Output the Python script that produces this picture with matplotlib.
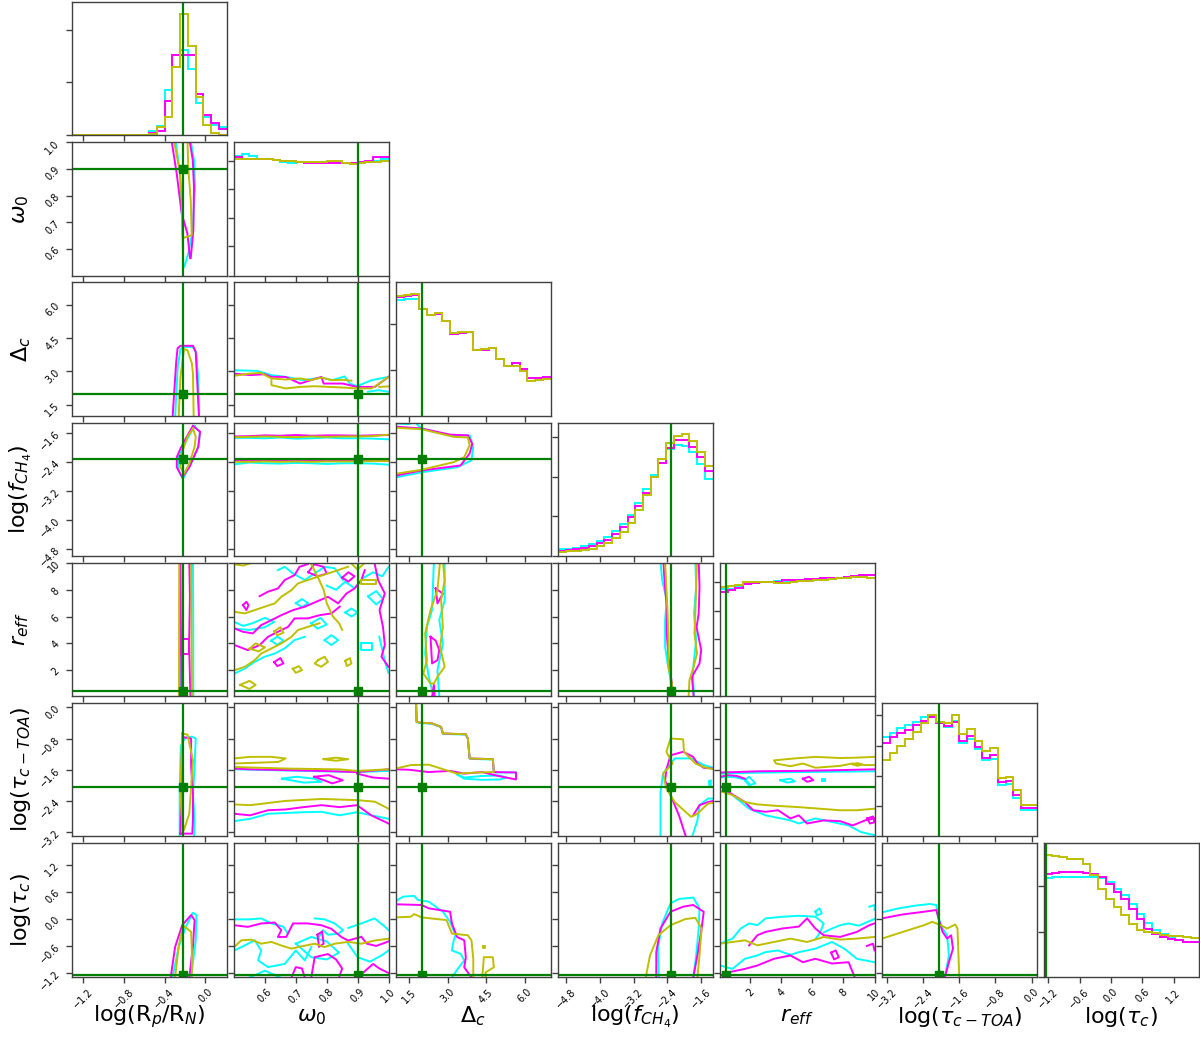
#!/usr/bin/env python3
"""Corner plot of three retrievals (cyan, magenta, olive) with the true values in green."""
import matplotlib
matplotlib.use('Agg')
import matplotlib.pyplot as plt
import numpy as np

LABELS = [r'log(R$_p$/R$_N$)', r'$\omega_0$', r'$\Delta_c$', r'log($f_{CH_4}$)',
          r'$r_{eff}$', r'log($\tau_{c-TOA}$)', r'log($\tau_c$)']
RANGES = [(-1.31, 0.21), (0.5, 1.0), (1.0, 7.0), (-5.0, -1.32),
          (0.06, 10.0), (-3.31, 0.11), (-1.28, 1.68)]
TRUTHS = [-0.22, 0.9, 2.0, -2.31, 0.45, -2.04, -1.25]
TICKS = [[-1.2, -0.8, -0.4, 0.0], [0.6, 0.7, 0.8, 0.9, 1.0], [1.5, 3.0, 4.5, 6.0],
         [-4.8, -4.0, -3.2, -2.4, -1.6], [2, 4, 6, 8, 10],
         [-3.2, -2.4, -1.6, -0.8, 0.0], [-1.2, -0.6, 0.0, 0.6, 1.2]]
HIST_YTICKS = [[0.0, 0.40, 0.79], [0.0, 0.219, 0.435, 0.647, 0.861], [0.0, 0.343, 0.687],
               [0.0, 0.297, 0.595, 0.893], [0.0, 0.213, 0.426, 0.64, 0.853],
               [0.0, 0.225, 0.45, 0.68, 0.91], [0.0, 0.338, 0.677]]

COLORS = {'c': '#00ffff', 'm': '#ff00ff', 'y': '#bfbf00'}
TRUTH_COLOR = '#008000'

# 1D marginals, 20 bins over RANGES, heights as fraction of the panel (cyan, magenta, olive)
HIST_0 = ([0, 0, 0, 0, 0, 0, 0, 0, 0, 0.005, 0.03, 0.07, 0.34, 0.60, 0.64, 0.50, 0.24, 0.14, 0.08, 0.06],
          [0, 0, 0, 0, 0, 0, 0, 0, 0, 0.005, 0.015, 0.03, 0.26, 0.60, 0.60, 0.60, 0.31, 0.15, 0.09, 0.05],
          [0, 0, 0, 0, 0, 0, 0, 0, 0, 0.005, 0.01, 0.06, 0.135, 0.51, 0.91, 0.67, 0.29, 0.08, 0.015, 0.0])
HIST_1 = ([0.896, 0.910, 0.896, 0.878, 0.873, 0.866, 0.853, 0.846, 0.853, 0.846,
           0.841, 0.846, 0.841, 0.841, 0.846, 0.836, 0.841, 0.853, 0.861, 0.871],
          [0.886, 0.878, 0.878, 0.873, 0.871, 0.866, 0.861, 0.858, 0.853, 0.848,
           0.846, 0.846, 0.846, 0.846, 0.846, 0.846, 0.853, 0.861, 0.886, 0.886],
          [0.871, 0.873, 0.873, 0.871, 0.871, 0.866, 0.861, 0.858, 0.853, 0.853,
           0.853, 0.853, 0.856, 0.858, 0.841, 0.836, 0.846, 0.853, 0.853, 0.861])
HIST_2 = ([0.871, 0.873, 0.878, 0.799, 0.759, 0.766, 0.711, 0.622, 0.624, 0.629,
           0.497, 0.497, 0.505, 0.423, 0.376, 0.398, 0.353, 0.281, 0.284, 0.286],
          [0.891, 0.896, 0.903, 0.799, 0.759, 0.766, 0.711, 0.617, 0.620, 0.627,
           0.495, 0.493, 0.505, 0.423, 0.376, 0.393, 0.353, 0.284, 0.287, 0.294],
          [0.898, 0.903, 0.910, 0.799, 0.759, 0.771, 0.711, 0.624, 0.627, 0.629,
           0.497, 0.499, 0.505, 0.423, 0.376, 0.373, 0.336, 0.264, 0.269, 0.274])
HIST_3 = ([0.050, 0.055, 0.063, 0.073, 0.088, 0.111, 0.143, 0.186, 0.238, 0.311,
           0.394, 0.499, 0.609, 0.730, 0.800, 0.832, 0.827, 0.777, 0.689, 0.581],
          [0.040, 0.045, 0.050, 0.063, 0.076, 0.098, 0.123, 0.168, 0.218, 0.293,
           0.376, 0.469, 0.589, 0.694, 0.807, 0.870, 0.870, 0.820, 0.744, 0.637],
          [0.030, 0.035, 0.038, 0.045, 0.055, 0.073, 0.098, 0.136, 0.181, 0.251,
           0.348, 0.461, 0.589, 0.730, 0.845, 0.903, 0.913, 0.865, 0.782, 0.677])
HIST_4 = ([0.802, 0.807, 0.824, 0.845, 0.852, 0.857, 0.857, 0.862, 0.857, 0.862,
           0.870, 0.875, 0.875, 0.878, 0.880, 0.885, 0.890, 0.895, 0.908, 0.908],
          [0.782, 0.800, 0.812, 0.840, 0.850, 0.855, 0.857, 0.857, 0.870, 0.875,
           0.875, 0.878, 0.880, 0.883, 0.885, 0.890, 0.895, 0.903, 0.910, 0.910],
          [0.820, 0.827, 0.837, 0.857, 0.860, 0.857, 0.855, 0.852, 0.850, 0.855,
           0.862, 0.867, 0.870, 0.872, 0.878, 0.883, 0.888, 0.893, 0.895, 0.890])
HIST_5 = ([0.747, 0.772, 0.810, 0.835, 0.860, 0.892, 0.902, 0.852, 0.817, 0.865,
           0.704, 0.734, 0.652, 0.576, 0.584, 0.389, 0.391, 0.288, 0.195, 0.195],
          [0.704, 0.747, 0.772, 0.797, 0.835, 0.865, 0.897, 0.852, 0.827, 0.860,
           0.717, 0.754, 0.672, 0.589, 0.607, 0.409, 0.414, 0.308, 0.215, 0.215],
          [0.571, 0.626, 0.677, 0.727, 0.780, 0.847, 0.910, 0.860, 0.847, 0.910,
           0.765, 0.802, 0.717, 0.641, 0.664, 0.441, 0.446, 0.346, 0.238, 0.238])
HIST_6 = ([0.739, 0.747, 0.747, 0.747, 0.747, 0.747, 0.747, 0.739, 0.709, 0.659,
           0.609, 0.546, 0.471, 0.401, 0.353, 0.321, 0.296, 0.276, 0.263, 0.258],
          [0.767, 0.779, 0.784, 0.784, 0.784, 0.779, 0.772, 0.747, 0.697, 0.634,
           0.584, 0.509, 0.434, 0.359, 0.321, 0.296, 0.283, 0.271, 0.263, 0.258],
          [0.910, 0.902, 0.897, 0.885, 0.880, 0.847, 0.759, 0.659, 0.584, 0.521,
           0.459, 0.396, 0.346, 0.338, 0.326, 0.313, 0.308, 0.303, 0.296, 0.288])

# 2D credible contours: (run, x values, y values)
C_1_0 = [
    ('c', [-0.296, -0.247, -0.228, -0.215, -0.205, -0.166, -0.122, -0.100, -0.110, -0.149],
          [1.02, 0.883, 0.721, 0.533, 0.533, 0.583, 0.671, 0.833, 0.933, 1.02]),
    ('m', [-0.336, -0.280, -0.231, -0.175, -0.149, -0.142, -0.116, -0.110, -0.122, -0.159],
          [1.02, 0.883, 0.733, 0.658, 0.565, 0.565, 0.671, 0.833, 0.933, 1.02]),
    ('y', [-0.313, -0.247, -0.231, -0.221, -0.132, -0.142, -0.166, -0.175],
          [1.02, 0.883, 0.783, 0.640, 0.652, 0.783, 0.902, 1.02]),
]
C_2_0 = [
    ('c', [-0.296, -0.270, -0.243, -0.209, -0.120, -0.086, -0.068, -0.060],
          [0.9, 3.20, 4.0, 4.10, 4.10, 3.81, 2.60, 0.9]),
    ('m', [-0.321, -0.286, -0.272, -0.243, -0.120, -0.093, -0.079, -0.060],
          [0.9, 3.36, 4.03, 4.15, 4.15, 3.88, 2.60, 0.9]),
    ('y', [-0.261, -0.243, -0.226, -0.209, -0.174, -0.131, -0.120, -0.113],
          [0.9, 2.75, 3.36, 4.0, 3.95, 3.36, 2.90, 0.9]),
]
C_3_0 = [
    ('c', [-0.104, -0.050, -0.068, -0.138, -0.219, -0.261, -0.261, -0.226, -0.174, -0.104],
          [-1.41, -1.59, -1.99, -2.45, -2.87, -2.64, -2.27, -2.04, -1.76, -1.41]),
    ('m', [-0.120, -0.050, -0.068, -0.156, -0.226, -0.279, -0.279, -0.243, -0.191, -0.120],
          [-1.41, -1.57, -1.99, -2.55, -2.83, -2.55, -2.27, -2.04, -1.76, -1.41]),
    ('y', [-0.120, -0.093, -0.104, -0.156, -0.209, -0.243, -0.233, -0.209, -0.174, -0.120],
          [-1.48, -1.71, -1.99, -2.45, -2.73, -2.55, -2.17, -1.99, -1.71, -1.48]),
]
C_4_0 = [
    ('c', [-0.251, -0.251], [10.1, 0.0]),
    ('c', [-0.120, -0.117, -0.117], [10.1, 5.0, 0.0]),
    ('m', [-0.243, -0.240, -0.236, -0.233], [10.1, 6.0, 3.0, 0.0]),
    ('m', [-0.156, -0.150, -0.158, -0.145], [10.1, 7.5, 4.0, 0.0]),
    ('m', [-0.233, -0.160, -0.160, -0.233, -0.233], [4.3, 4.3, 3.2, 3.2, 4.3]),
    ('y', [-0.255, -0.258], [10.1, 0.0]),
    ('y', [-0.138, -0.135, -0.131], [10.1, 5.0, 0.0]),
]
C_5_0 = [
    ('c', [-0.251, -0.251, -0.240, -0.200, -0.130, -0.093, -0.104, -0.120, -0.104, -0.110],
          [-3.4, -2.21, -1.0, -0.78, -0.75, -0.80, -1.53, -2.21, -2.90, -3.4]),
    ('m', [-0.243, -0.236, -0.226, -0.138, -0.138, -0.120, -0.120, -0.127, -0.243],
          [-3.24, -2.21, -0.76, -0.80, -1.53, -2.21, -2.90, -3.24, -3.24]),
    ('y', [-0.226, -0.174, -0.120, -0.138, -0.156, -0.209, -0.233, -0.243, -0.226],
          [-0.67, -0.70, -1.36, -2.04, -2.73, -3.15, -2.73, -2.04, -0.67]),
]
C_6_0 = [
    ('c', [-0.321, -0.261, -0.191, -0.120, -0.086, -0.093, -0.138],
          [-1.3, -0.625, -0.177, 0.137, 0.086, -0.475, -1.3]),
    ('m', [-0.339, -0.296, -0.226, -0.138, -0.104, -0.120, -0.156],
          [-1.3, -0.625, -0.139, 0.086, -0.027, -0.60, -1.3]),
    ('y', [-0.296, -0.261, -0.243, -0.209, -0.138, -0.131, -0.131],
          [-1.3, -0.625, -0.40, -0.154, -0.289, -0.70, -1.3]),
]
C_2_1 = [
    ('c', [0.5, 0.575, 0.621, 0.667, 0.725, 0.783, 0.818, 0.858, 0.875, 0.898, 0.945, 1.0],
          [3.05, 3.02, 2.83, 2.75, 2.60, 2.72, 2.60, 2.77, 2.45, 2.33, 2.60, 2.75]),
    ('c', [0.933, 0.968, 1.0], [2.08, 2.15, 2.08]),
    ('m', [0.5, 0.552, 0.6, 0.621, 0.667, 0.714, 0.748, 0.783, 0.79, 0.852, 0.898, 0.956, 1.0],
          [2.90, 2.83, 2.87, 2.75, 2.75, 2.45, 2.60, 2.75, 2.45, 2.45, 2.30, 2.30, 2.75]),
    ('y', [0.5, 0.552, 0.586, 0.621, 0.667, 0.714, 0.748, 0.783, 0.818, 0.85, 0.88],
          [2.80, 2.90, 2.93, 2.68, 2.63, 2.68, 2.60, 2.72, 2.60, 2.62, 2.58]),
    ('y', [0.621, 0.621, 0.667, 0.714, 0.760, 0.806, 0.852, 0.898, 0.945, 0.970, 1.0],
          [2.68, 2.38, 2.23, 2.30, 2.33, 2.30, 2.27, 2.23, 2.23, 2.45, 2.75]),
    ('y', [0.97, 1.0], [2.30, 2.32]),
]
X_3_1 = [0.5, 0.55, 0.6, 0.65, 0.7, 0.75, 0.8, 0.85, 0.9, 0.95, 1.0]
C_3_1 = [
    ('c', X_3_1, [-1.74, -1.74, -1.75, -1.73, -1.76, -1.75, -1.73, -1.75, -1.75, -1.76, -1.78]),
    ('c', X_3_1, [-2.47, -2.42, -2.44, -2.45, -2.43, -2.44, -2.46, -2.44, -2.44, -2.45, -2.48]),
    ('m', X_3_1, [-1.70, -1.69, -1.67, -1.68, -1.66, -1.68, -1.67, -1.67, -1.68, -1.67, -1.66]),
    ('m', X_3_1, [-2.37, -2.38, -2.36, -2.38, -2.37, -2.37, -2.38, -2.37, -2.37, -2.38, -2.38]),
    ('y', X_3_1, [-1.72, -1.71, -1.70, -1.71, -1.72, -1.70, -1.71, -1.70, -1.70, -1.69, -1.65]),
    ('y', X_3_1, [-2.40, -2.40, -2.39, -2.40, -2.39, -2.40, -2.39, -2.39, -2.39, -2.38, -2.38]),
]
C_4_1 = [
    ('c', [0.642, 0.664, 0.691, 0.729, 0.761, 0.793, 0.826, 0.853],
          [9.46, 9.71, 9.21, 8.72, 9.21, 9.71, 9.60, 8.72]),
    ('c', [0.502, 0.535, 0.567, 0.599, 0.632, 0.664, 0.696, 0.729],
          [1.75, 2.12, 2.62, 3.0, 3.24, 3.62, 4.24, 4.49]),
    ('c', [0.793, 0.815, 0.837, 0.815, 0.793], [4.24, 4.61, 4.24, 3.87, 4.24]),
    ('c', [0.912, 0.945, 0.945, 0.912, 0.912], [4.0, 4.0, 3.5, 3.5, 4.0]),
    ('c', [0.934, 0.960, 0.982, 0.960, 0.934], [7.5, 7.9, 7.3, 6.9, 7.5]),
    ('c', [0.75, 0.78, 0.80, 0.77, 0.75], [5.5, 5.9, 5.4, 5.1, 5.5]),
    ('c', [0.97, 0.99, 1.0], [4.5, 2.5, 1.8]),
    ('c', [0.5, 0.53, 0.56, 0.60, 0.63, 0.60, 0.55, 0.5], [5.6, 5.3, 5.5, 5.9, 5.6, 5.2, 5.0, 5.1]),
    ('c', [0.86, 0.88, 0.90, 0.88, 0.86], [6.3, 6.6, 6.3, 6.0, 6.3]),
    ('c', [0.80, 0.83, 0.86, 0.89, 0.92, 0.95, 0.98, 1.0], [8.3, 8.0, 8.6, 8.1, 8.9, 9.3, 9.0, 9.7]),
    ('c', [0.70, 0.72, 0.74, 0.72, 0.70], [7.0, 7.3, 7.0, 6.7, 7.0]),
    ('c', [0.62, 0.64, 0.66, 0.64, 0.62], [4.2, 4.5, 4.2, 3.9, 4.2]),
    ('m', [0.583, 0.610, 0.642, 0.664, 0.696, 0.712, 0.739],
          [7.52, 7.85, 8.09, 8.72, 9.09, 9.71, 9.91]),
    ('m', [0.502, 0.529, 0.561, 0.588, 0.621, 0.653, 0.691, 0.729, 0.766, 0.804, 0.837,
           0.864, 0.890, 0.912, 0.923],
          [5.11, 4.86, 4.74, 5.36, 5.73, 6.10, 6.48, 6.73, 7.10, 7.47, 6.98, 7.72, 8.09, 8.72, 9.46]),
    ('m', [0.502, 0.545, 0.583, 0.610, 0.642, 0.675, 0.696, 0.739, 0.777, 0.815, 0.842],
          [3.87, 3.49, 3.87, 4.49, 4.86, 5.23, 5.86, 5.86, 6.10, 6.23, 6.73]),
    ('m', [0.955, 0.966, 0.988, 0.971, 0.982, 0.988, 0.977, 1.0],
          [9.96, 8.72, 7.72, 6.48, 5.23, 3.87, 3.0, 2.25]),
    ('m', [0.529, 0.540, 0.547, 0.540, 0.529], [6.85, 7.10, 6.85, 6.48, 6.85]),
    ('m', [0.74, 0.76, 0.79, 0.80, 0.77, 0.74], [9.3, 9.9, 9.7, 9.2, 9.0, 9.3]),
    ('m', [0.85, 0.87, 0.89, 0.87, 0.85], [8.9, 9.3, 9.0, 8.6, 8.9]),
    ('m', [0.63, 0.65, 0.66, 0.64, 0.63], [2.6, 2.9, 2.5, 2.3, 2.6]),
    ('y', [0.502, 0.535, 0.567, 0.599, 0.632, 0.653, 0.686, 0.707, 0.739, 0.772, 0.804,
           0.837, 0.869],
          [6.35, 6.23, 6.48, 6.73, 6.98, 7.47, 7.97, 8.47, 8.72, 8.97, 9.21, 9.46, 9.71]),
    ('y', [0.502, 0.535, 0.567, 0.588, 0.621, 0.653, 0.686, 0.707, 0.739, 0.777],
          [2.0, 2.25, 2.75, 3.24, 3.62, 3.99, 4.49, 4.99, 5.23, 5.5]),
    ('y', [0.75, 0.77, 0.79, 0.80, 0.82, 0.84, 0.85], [9.9, 9.0, 8.0, 7.0, 6.0, 5.5, 5.0]),
    ('y', [0.772, 0.793, 0.804, 0.782, 0.761, 0.772], [2.75, 3.0, 2.62, 2.25, 2.5, 2.75]),
    ('y', [0.86, 0.875, 0.88, 0.865, 0.86], [2.7, 2.9, 2.5, 2.3, 2.7]),
    ('y', [0.912, 0.96, 0.96, 0.912, 0.912], [8.72, 8.72, 8.4, 8.4, 8.72]),
    ('y', [0.69, 0.71, 0.72, 0.70, 0.69], [2.1, 2.3, 2.0, 1.8, 2.1]),
    ('y', [0.55, 0.57, 0.60, 0.58, 0.55], [3.6, 4.0, 3.7, 3.4, 3.6]),
    ('y', [0.63, 0.65, 0.66, 0.64, 0.63], [4.9, 5.2, 4.8, 4.6, 4.9]),
    ('y', [0.5, 0.53, 0.55], [9.9, 9.8, 9.95]),
    ('y', [0.52, 0.55, 0.57, 0.55, 0.52], [0.9, 1.2, 0.9, 0.6, 0.9]),
    ('y', [0.88, 0.90, 0.92], [9.95, 9.5, 9.95]),
]
C_5_1 = [
    ('c', [0.5, 0.667, 0.783, 0.898, 1.0], [-1.59, -1.62, -1.64, -1.66, -1.63]),
    ('c', [0.655, 0.702, 0.760, 0.783, 0.725, 0.655], [-1.83, -1.78, -1.83, -1.91, -1.93, -1.83]),
    ('c', [0.5, 0.552, 0.610, 0.725, 0.783, 0.841, 0.898, 1.0],
          [-2.92, -2.86, -2.73, -2.69, -2.68, -2.77, -2.69, -2.86]),
    ('m', [0.5, 0.552, 0.667, 0.783, 0.898, 1.0], [-1.57, -1.59, -1.61, -1.63, -1.66, -1.59]),
    ('m', [0.760, 0.806, 0.852, 0.818, 0.760], [-1.78, -1.74, -1.87, -1.95, -1.78]),
    ('m', [0.898, 0.95, 1.0], [-1.70, -1.80, -1.83]),
    ('m', [0.5, 0.552, 0.610, 0.667, 0.725, 0.783, 0.841, 0.898, 0.944, 1.0],
          [-2.73, -2.77, -2.64, -2.62, -2.56, -2.51, -2.56, -2.51, -2.77, -2.98]),
    ('y', [0.5, 0.552, 0.621, 0.667, 0.644, 0.575, 0.5], [-1.31, -1.27, -1.27, -1.31, -1.40, -1.42, -1.44]),
    ('y', [0.79, 0.83, 0.87, 0.83, 0.79], [-1.33, -1.29, -1.33, -1.37, -1.33]),
    ('y', [0.5, 0.667, 0.841, 0.898, 1.0], [-1.53, -1.57, -1.59, -1.63, -1.59]),
    ('y', [0.5, 0.552, 0.667, 0.783, 0.898, 0.956, 1.0], [-2.49, -2.51, -2.40, -2.35, -2.38, -2.42, -2.60]),
]
C_6_1 = [
    ('c', [0.5, 0.55, 0.588, 0.621, 0.659, 0.675], [-0.01, -0.01, 0.012, -0.10, -0.17, -0.33]),
    ('c', [0.761, 0.793, 0.826, 0.853, 0.837, 0.804, 0.788, 0.775],
          [0.012, -0.01, -0.10, -0.25, -0.33, -0.35, -0.25, -0.40]),
    ('c', [0.870, 0.912, 0.955, 0.988, 1.0], [-0.20, -0.10, 0.012, -0.17, -0.25]),
    ('c', [0.5, 0.524, 0.567, 0.588, 0.578, 0.610, 0.664, 0.700, 0.729, 0.75],
          [-0.70, -0.625, -0.475, -0.70, -0.92, -1.07, -1.0, -0.7, -0.92, -0.625]),
    ('c', [0.70, 0.75, 0.80, 0.84, 0.80, 0.75, 0.70], [-0.55, -0.40, -0.50, -0.75, -0.90, -0.85, -0.55]),
    ('c', [0.869, 0.900, 0.94, 0.98, 1.0], [-0.55, -0.85, -0.95, -0.80, -0.70]),
    ('c', [0.55, 0.60, 0.65], [-1.3, -1.15, -1.3]),
    ('m', [0.5, 0.545, 0.588, 0.632, 0.653, 0.642, 0.669, 0.691, 0.739, 0.783, 0.815, 0.847,
           0.869, 0.890, 0.912],
          [-0.14, -0.176, -0.10, -0.08, -0.25, -0.40, -0.40, -0.10, -0.10, -0.14, -0.22, -0.40,
           -0.48, -0.44, -0.40]),
    ('m', [0.686, 0.70, 0.72, 0.729], [-1.3, -1.07, -1.1, -1.3]),
    ('m', [0.750, 0.761, 0.804, 0.83, 0.85, 0.84], [-1.3, -0.85, -0.78, -0.90, -1.1, -1.3]),
    ('m', [0.912, 0.93, 0.96, 1.0], [-0.40, -0.55, -0.60, -0.50]),
    ('m', [0.77, 0.785, 0.79, 0.775, 0.77], [-0.35, -0.28, -0.55, -0.62, -0.35]),
    ('m', [0.90, 0.95, 0.97, 1.0], [-1.3, -1.0, -1.1, -1.2]),
    ('y', [0.5, 0.524, 0.556, 0.588, 0.621, 0.653, 0.686, 0.718, 0.761, 0.793, 0.826, 0.869,
           0.912, 0.955, 1.0],
          [-0.625, -0.475, -0.46, -0.55, -0.51, -0.59, -0.66, -0.61, -0.55, -0.625, -0.55,
           -0.51, -0.55, -0.48, -0.44]),
]
C_3_2 = [
    ('c', [1.0, 1.5, 1.6, 1.75, 1.99, 3.10, 3.86, 4.0, 3.93, 3.37, 1.99, 1.0],
          [-1.34, -1.36, -1.32, -1.32, -1.48, -1.67, -1.67, -1.99, -2.36, -2.55, -2.69, -2.83]),
    ('m', [1.0, 1.99, 3.10, 3.79, 3.96, 3.86, 3.51, 1.99, 1.0],
          [-1.43, -1.48, -1.65, -1.67, -1.90, -2.17, -2.50, -2.64, -2.78]),
    ('y', [1.0, 1.99, 3.24, 3.79, 3.86, 3.65, 3.24, 1.99, 1.0],
          [-1.46, -1.50, -1.71, -1.73, -1.94, -2.27, -2.41, -2.62, -2.73]),
]
C_4_2 = [
    ('c', [2.89, 2.89, 2.68, 2.82, 2.61, 2.68], [10.1, 7.22, 5.73, 3.99, 2.0, 0.0]),
    ('c', [2.47, 2.40, 2.20, 2.13, 2.27, 2.47], [10.1, 6.48, 5.23, 3.24, 1.50, 0.0]),
    ('m', [2.54, 2.82, 2.61, 2.54], [8.1, 7.7, 6.98, 8.1]),
    ('m', [2.34, 2.54, 2.68, 2.61, 2.40, 2.34], [4.49, 4.2, 3.5, 2.75, 2.5, 4.49]),
    ('m', [2.40, 2.47, 2.50], [0.0, 0.9, 0.0]),
    ('y', [2.71, 2.61, 2.34, 2.13, 2.20, 2.06, 2.34, 2.47, 2.61, 2.89, 2.71, 2.82, 2.75, 2.89, 2.82],
          [10.1, 7.97, 6.48, 4.74, 2.75, 1.75, 1.0, 1.0, 1.50, 2.25, 3.74, 5.23, 7.22, 8.72, 10.1]),
]
C_5_2 = [
    ('c', [1.78, 1.80, 1.92, 2.40, 2.75, 2.82, 3.71, 3.79, 3.86, 4.76, 4.80, 5.66],
          [0.12, -0.38, -0.40, -0.42, -0.51, -0.68, -0.70, -0.81, -1.32, -1.34, -1.67, -1.67]),
    ('c', [3.37, 3.65, 4.34, 5.04, 5.30, 5.04, 4.34, 3.65, 3.37],
          [-1.72, -1.80, -1.76, -1.75, -1.80, -1.85, -1.86, -1.83, -1.72]),
    ('m', [1.78, 1.80, 1.92, 2.40, 2.75, 2.82, 3.71, 3.79, 3.86, 4.76, 4.80, 5.66, 5.66, 5.04,
           4.34, 3.65, 3.10, 2.27, 1.5, 1.0],
          [0.12, -0.37, -0.39, -0.41, -0.50, -0.67, -0.69, -0.80, -1.31, -1.33, -1.66, -1.67,
           -1.85, -1.77, -1.66, -1.70, -1.63, -1.66, -1.60, -1.59]),
    ('y', [1.78, 1.80, 1.92, 2.40, 2.75, 2.82, 3.71, 3.79, 3.86, 4.76, 4.80, 4.2, 3.37, 2.75,
           2.27, 1.57, 1.0],
          [0.12, -0.37, -0.39, -0.41, -0.50, -0.67, -0.69, -0.80, -1.31, -1.33, -1.66, -1.67,
           -1.70, -1.57, -1.47, -1.48, -1.57]),
]
C_6_2 = [
    ('c', [1.0, 1.28, 1.71, 1.85, 2.27, 2.82, 3.10, 3.31, 3.24, 3.17, 3.51, 3.65, 3.44, 3.17],
          [0.40, 0.496, 0.512, 0.422, 0.384, 0.16, -0.064, -0.363, -0.475, -0.70, -0.775,
           -0.924, -1.074, -1.3]),
    ('m', [1.0, 1.99, 2.27, 3.10, 3.17, 3.37, 3.65, 3.71, 3.65, 3.93],
          [0.325, 0.31, 0.236, 0.16, -0.10, -0.40, -0.475, -0.85, -1.074, -1.3]),
    ('y', [1.0, 1.57, 1.71, 1.99, 2.96, 3.17, 3.79, 3.93, 4.0, 4.0],
          [0.034, 0.048, 0.108, 0.034, -0.026, -0.325, -0.363, -0.475, -0.885, -1.3]),
    ('y', [4.35, 4.41, 4.76, 4.80, 4.48, 4.48], [-1.3, -0.85, -0.85, -1.074, -1.186, -1.3]),
    ('y', [4.38, 4.44, 4.44, 4.38, 4.38], [-0.60, -0.60, -0.65, -0.65, -0.60]),
]
C_4_3 = [
    ('c', [-2.56, -2.52, -2.41, -2.45, -2.45, -2.39, -2.33, -2.29], [10.1, 8.72, 7.22, 5.73, 3.74, 2.50, 1.50, 0.0]),
    ('c', [-1.73, -1.71, -1.76, -1.71, -1.77, -1.79, -1.76], [10.1, 8.22, 6.23, 4.24, 2.50, 1.75, 0.0]),
    ('m', [-2.49, -2.46, -2.41, -2.41, -2.37, -2.31, -2.25], [10.1, 8.5, 6.72, 4.74, 3.0, 1.50, 0.0]),
    ('m', [-1.65, -1.63, -1.65, -1.70, -1.59, -1.63, -1.81, -1.77], [10.1, 8.22, 6.23, 5.2, 3.5, 2.50, 1.50, 0.0]),
    ('y', [-2.45, -2.42, -2.39, -2.37, -2.37, -2.29, -2.29], [10.1, 8.22, 6.23, 4.24, 2.25, 1.0, 0.0]),
    ('y', [-1.69, -1.71, -1.73, -1.75, -1.69, -1.77, -1.87, -1.89], [10.1, 8.22, 6.23, 4.74, 3.25, 2.25, 1.25, 0.0]),
]
C_5_3 = [
    ('c', [-1.30, -1.53, -1.83, -2.22, -2.50, -2.56, -2.56], [-1.55, -1.48, -1.31, -1.31, -1.70, -2.2, -3.4]),
    ('c', [-1.83, -1.68, -1.63, -1.43, -1.30], [-3.4, -2.90, -2.51, -2.34, -2.34]),
    ('c', [-1.40, -1.36, -1.36, -1.40, -1.40], [-1.90, -1.87, -2.0, -2.0, -1.90]),
    ('m', [-1.30, -1.53, -1.68, -1.78, -2.02, -2.32, -2.42, -2.45, -2.32, -2.12, -1.93],
          [-1.57, -1.55, -1.44, -1.27, -1.14, -1.23, -1.6, -1.87, -2.25, -2.77, -3.4]),
    ('m', [-1.78, -1.63, -1.43, -1.30], [-2.77, -2.51, -2.43, -2.40]),
    ('y', [-1.30, -1.53, -1.73, -2.00, -2.02, -2.32, -2.42, -2.27, -2.50, -2.42, -2.22, -1.83,
           -1.68, -1.43, -1.30],
          [-1.59, -1.53, -1.44, -1.14, -0.82, -0.80, -1.14, -1.44, -1.70, -2.08, -2.43, -2.81,
           -2.73, -2.47, -2.45]),
]
C_6_3 = [
    ('c', [-2.60, -2.62, -2.52, -2.32, -2.12, -1.78, -1.63, -1.65, -1.71, -1.78],
          [-1.3, -0.661, -0.1, 0.347, 0.444, 0.474, 0.235, -0.213, -0.811, -1.3]),
    ('m', [-2.66, -2.66, -2.56, -2.32, -2.02, -1.78, -1.53, -1.58, -1.68, -1.78],
          [-1.3, -0.737, -0.213, 0.16, 0.272, 0.31, 0.16, -0.213, -0.811, -1.3]),
    ('y', [-2.91, -2.81, -2.61, -2.32, -1.97, -1.73, -1.58, -1.63, -1.68],
          [-1.3, -0.811, -0.363, -0.139, -0.004, 0.026, -0.213, -0.811, -1.3]),
]
C_5_4 = [
    ('c', [0.06, 1.93, 5.13, 10.0], [-1.70, -1.68, -1.66, -1.64]),
    ('c', [0.06, 0.86, 1.66, 1.93], [-1.80, -1.78, -1.85, -1.95]),
    ('c', [1.66, 1.93, 2.33, 1.93, 1.66], [-1.87, -1.78, -1.95, -2.0, -1.87]),
    ('c', [3.93, 4.59, 4.86, 4.4, 3.93], [-1.87, -1.83, -1.90, -1.93, -1.87]),
    ('c', [6.6, 6.8, 6.8, 6.6, 6.6], [-1.85, -1.85, -1.89, -1.89, -1.85]),
    ('c', [0.86, 1.93, 2.99, 4.59, 5.13, 6.19, 7.26, 8.33, 9.13, 10.0],
          [-2.25, -2.60, -2.77, -2.90, -2.98, -2.85, -2.94, -3.03, -3.20, -3.28]),
    ('m', [0.06, 1.13, 2.46, 5.13, 7.79, 10.0], [-1.67, -1.66, -1.64, -1.63, -1.61, -1.59]),
    ('m', [0.06, 0.59, 1.13, 1.66], [-1.78, -1.74, -1.76, -1.83]),
    ('m', [5.39, 5.79, 6.06, 5.66, 5.39], [-1.83, -1.78, -1.87, -1.91, -1.83]),
    ('m', [0.59, 1.66, 2.19, 2.99, 3.79, 4.59, 5.13, 5.66, 6.73, 7.79, 8.59, 9.39, 10.0],
          [-2.17, -2.43, -2.64, -2.68, -2.64, -2.85, -2.77, -2.98, -2.90, -2.92, -3.03, -2.90, -2.85]),
    ('m', [9.53, 9.9, 10.0, 9.7, 9.53], [-2.85, -2.80, -2.95, -2.98, -2.85]),
    ('y', [10.0, 9.39, 8.59, 7.79, 6.19, 5.39, 4.59, 3.66, 3.53, 4.86, 6.19, 7.79, 8.86, 10.0],
          [-1.48, -1.48, -1.44, -1.50, -1.55, -1.44, -1.51, -1.44, -1.36, -1.31, -1.27, -1.30, -1.29, -1.27]),
    ('y', [8.6, 8.9, 9.2, 8.9, 8.6], [-1.46, -1.43, -1.46, -1.50, -1.46]),
    ('y', [0.06, 0.86, 1.66, 2.46, 3.79, 5.13, 6.46, 7.79, 8.86, 10.0],
          [-2.15, -2.25, -2.43, -2.49, -2.53, -2.56, -2.60, -2.64, -2.64, -2.60]),
]
C_6_4 = [
    ('c', [0.06, 0.86, 1.39, 1.93, 2.46, 2.99, 4.06, 5.13, 6.19, 6.73, 6.5, 6.2],
          [-0.549, -0.437, -0.213, -0.10, -0.139, 0.012, 0.048, 0.07, 0.05, -0.10, -0.3, -0.45]),
    ('c', [6.73, 7.26, 7.79, 8.33, 8.99, 9.66, 10.0], [-0.30, -0.213, -0.139, -0.10, -0.15, -0.05, 0.0]),
    ('c', [0.06, 0.86, 1.66, 2.46, 2.99, 3.79, 4.6, 5.13, 5.66, 6.19, 7.26, 8.06, 8.86, 10.0],
          [-1.035, -1.11, -0.885, -0.811, -0.737, -0.70, -0.80, -0.737, -0.70, -0.661, -0.512,
           -0.661, -0.885, -0.961]),
    ('c', [6.19, 6.46, 6.6, 6.3, 6.19], [0.16, 0.236, 0.12, 0.08, 0.16]),
    ('c', [9.66, 10.0, 10.0], [0.27, 0.31, 0.2]),
    ('m', [1.93, 2.46, 2.99, 3.53, 4.06, 5.13, 5.66, 6.19, 6.73, 7.79, 8.86, 9.66, 10.0],
          [-0.587, -0.363, -0.288, -0.25, -0.213, -0.17, 0.012, -0.213, -0.363, -0.40, -0.288,
           -0.139, -0.10]),
    ('m', [0.59, 1.66, 2.46, 3.53, 4.59, 5.39, 6.19, 7.26, 8.33, 8.73],
          [-1.186, -1.11, -1.035, -0.885, -0.811, -0.961, -0.885, -0.99, -0.961, -1.3]),
    ('m', [9.5, 9.9, 10.0], [-0.60, -0.55, -0.70]),
    ('m', [7.2, 7.5, 7.7, 7.4, 7.2], [-0.75, -0.7, -0.85, -0.9, -0.75]),
    ('y', [0.06, 0.86, 1.66, 2.46, 3.53, 4.59, 5.66, 6.73, 7.79, 8.86, 10.0],
          [-0.549, -0.512, -0.475, -0.587, -0.512, -0.437, -0.512, -0.40, -0.46, -0.437, -0.40]),
]
C_6_5 = [
    ('c', [-3.31, -2.94, -2.57, -2.25, -2.11, -2.06, -1.97, -1.87, -1.83, -1.92],
          [0.146, 0.236, 0.296, 0.332, 0.31, 0.012, -0.213, -0.363, -0.811, -1.3]),
    ('m', [-3.31, -2.85, -2.38, -2.11, -2.06, -1.97, -1.87, -1.78, -1.74, -1.83, -1.92],
          [0.012, 0.10, 0.16, 0.198, 0.012, -0.288, -0.437, -0.363, -0.661, -0.961, -1.3]),
    ('y', [-3.31, -2.85, -2.38, -2.20, -2.01, -1.87, -1.69, -1.64, -1.60],
          [-0.437, -0.288, -0.139, -0.064, -0.139, -0.213, -0.124, -0.213, -1.3]),
]

HISTS = [HIST_0, HIST_1, HIST_2, HIST_3, HIST_4, HIST_5, HIST_6]
PAIRS = {(1, 0): C_1_0, (2, 0): C_2_0, (3, 0): C_3_0, (4, 0): C_4_0, (5, 0): C_5_0,
         (6, 0): C_6_0, (2, 1): C_2_1, (3, 1): C_3_1, (4, 1): C_4_1, (5, 1): C_5_1,
         (6, 1): C_6_1, (3, 2): C_3_2, (4, 2): C_4_2, (5, 2): C_5_2, (6, 2): C_6_2,
         (4, 3): C_4_3, (5, 3): C_5_3, (6, 3): C_6_3, (5, 4): C_5_4, (6, 4): C_6_4,
         (6, 5): C_6_5}

LW = 1.4


def draw_hist(ax, k):
    """1D marginal for parameter k"""
    lo, hi = RANGES[k]
    edges = np.linspace(lo, hi, len(HISTS[k][0]) + 1)
    for key, h in zip('cmy', HISTS[k]):
        ax.stairs(h, edges, color=COLORS[key], lw=LW, baseline=None)
    ax.axvline(TRUTHS[k], color=TRUTH_COLOR, lw=1.6)
    ax.set_xlim(lo, hi)
    ax.set_ylim(0, 1)
    ax.set_xticks(TICKS[k])
    ax.set_yticks(HIST_YTICKS[k])


def draw_pair(ax, i, j):
    """2D contours, param j on x and param i on y"""
    for key, xs, ys in PAIRS[(i, j)]:
        ax.plot(xs, ys, color=COLORS[key], lw=LW)
    ax.axvline(TRUTHS[j], color=TRUTH_COLOR, lw=1.6)
    ax.axhline(TRUTHS[i], color=TRUTH_COLOR, lw=1.6)
    ax.plot(TRUTHS[j], TRUTHS[i], 's', color=TRUTH_COLOR, ms=6)
    ax.set_xlim(RANGES[j])
    ax.set_ylim(RANGES[i])
    ax.set_xticks(TICKS[j])
    ax.set_yticks(TICKS[i])


def style(ax, i, j):
    for s in ax.spines.values():
        s.set_color('0.25')
        s.set_linewidth(1.0)
    ax.tick_params(color='0.25', labelsize=7, length=4, width=1.0)
    if i == 6:
        ax.tick_params(axis='x', labelrotation=45)
        ax.set_xlabel(LABELS[j], fontsize=16, va='center')
        ax.xaxis.set_label_coords(0.5, -0.30)
    else:
        ax.tick_params(labelbottom=False)
    if j == 0 and i > 0:
        ax.tick_params(axis='y', labelrotation=45)
        ax.set_ylabel(LABELS[i], fontsize=16, va='center')
        ax.yaxis.set_label_coords(-0.33, 0.5)
    else:
        ax.tick_params(labelleft=False)


def main():
    n = len(LABELS)
    fig, axes = plt.subplots(n, n, figsize=(12, 10.43), dpi=100)
    fig.subplots_adjust(left=0.06, right=0.9988, top=0.998, bottom=0.0637,
                        wspace=0.0485, hspace=0.052)
    for i in range(n):
        for j in range(n):
            ax = axes[i, j]
            if j > i:
                ax.set_axis_off()
                continue
            if i == j:
                draw_hist(ax, i)
            else:
                draw_pair(ax, i, j)
            style(ax, i, j)
    fig.savefig('out.png', dpi=100)


if __name__ == "__main__":
    main()
